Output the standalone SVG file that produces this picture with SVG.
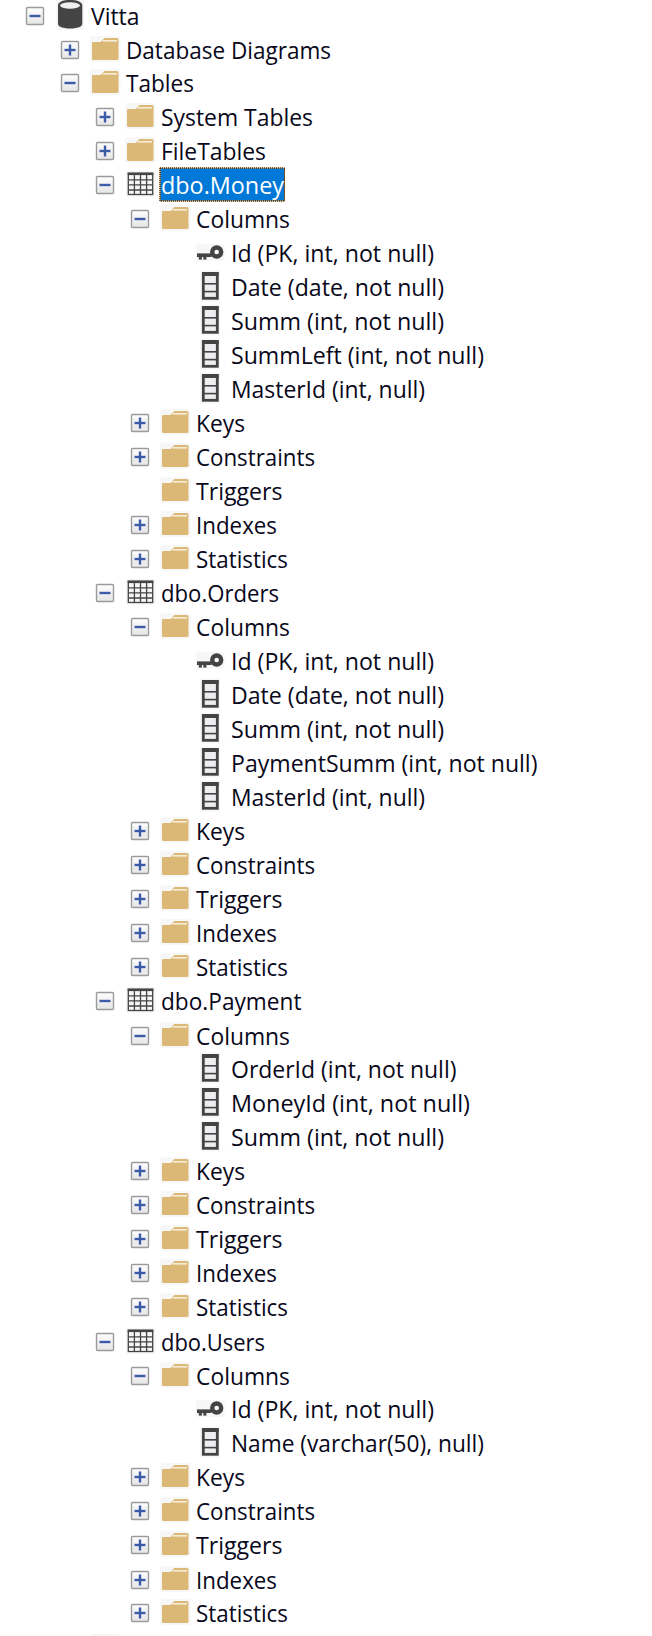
<svg xmlns="http://www.w3.org/2000/svg" width="652" height="1636" viewBox="0 0 652 1636">
<style>
text{font-family:"Open Sans","Noto Sans","Liberation Sans",sans-serif;font-size:23px;fill:#08081a}
.sel{fill:#fff}
.halo{fill:#f7f7f7}
.ic{fill:#444}
.box{fill:url(#bx);stroke:#9b9b9b;stroke-width:1.4}
.gl{fill:#3c5aa6}
.fold{fill:#dcb877}
.stripe{fill:#f6ecd8}
</style>
<defs>
<linearGradient id="bx" x1="0" y1="0" x2="0" y2="1"><stop offset="0" stop-color="#fdfdfd"/><stop offset="1" stop-color="#e6e6e6"/></linearGradient>
<g id="minus"><rect class="box" x="-8.5" y="-8.5" width="17" height="17" rx="1"/><rect class="gl" x="-5.5" y="-1.2" width="11" height="2.4"/></g>
<g id="plus"><rect class="box" x="-8.5" y="-8.5" width="17" height="17" rx="1"/><rect class="gl" x="-5.5" y="-1.2" width="11" height="2.4"/><rect class="gl" x="-1.2" y="-5.5" width="2.4" height="11"/></g>
<g id="folder"><rect class="halo" x="-2" y="-14" width="30.5" height="26" rx="3"/><path class="fold" d="M1 -8H8.5L12.5 -12H25Q26.5 -12 26.5 -10.5V8.5Q26.5 10 25 10H1.5Q0 10 0 8.5V-7Q0 -8 1 -8Z"/><rect class="stripe" x="10.5" y="-10" width="14.5" height="1.6"/></g>
<g id="table"><rect class="halo" x="-2" y="-14" width="30" height="26" rx="2"/><rect x="0.6" y="-11.5" width="24.4" height="21" fill="#f6f6f6" stroke="#444" stroke-width="1.3"/><rect class="ic" x="0" y="-12.5" width="25.6" height="2.6"/><path d="M6.7 -11V9.5M12.8 -11V9.5M18.9 -11V9.5M0.6 -5.2H25M0.6 -0.1H25M0.6 5H25" fill="none" stroke="#444" stroke-width="1.3"/></g>
<g id="column"><rect class="halo" x="200" y="-16.5" width="20" height="31"/><rect x="203.3" y="-13.2" width="14" height="24.5" fill="#eeeef1" stroke="#444" stroke-width="2.8"/><rect class="ic" x="202" y="-15" width="16.6" height="4"/><rect class="ic" x="203" y="-4" width="14" height="1.6"/><rect class="ic" x="203" y="3.8" width="14" height="1.6"/></g>
<g id="key"><rect class="halo" x="196" y="-9" width="28.5" height="17"/><circle cx="216.7" cy="-1" r="4.5" fill="none" stroke="#444" stroke-width="4.4"/><rect class="ic" x="197" y="0.4" width="14.5" height="3.6"/><rect class="ic" x="198.8" y="3" width="3.1" height="3.6"/><rect class="ic" x="203.3" y="3" width="3.1" height="3.6"/></g>
</defs>
<rect width="652" height="1636" fill="#fff"/>
<g id="tree">
<g id="vitta" transform="translate(0,16)"><use href="#minus" x="35"/><rect class="halo" x="56" y="-16" width="28" height="30"/><path class="ic" d="M58 -10.5C58 -18 82.3 -18 82.3 -10.5V8C82.3 14 58 14 58 8Z"/><ellipse cx="70" cy="-10.5" rx="10" ry="3.2" fill="#f0f0f0"/><text x="91" y="8.5" textLength="48.5" lengthAdjust="spacingAndGlyphs">Vitta</text></g>
<g id="database-diagrams" transform="translate(0,50)"><use href="#plus" x="70"/><use href="#folder" x="92"/><text x="126" y="8.5" textLength="205" lengthAdjust="spacingAndGlyphs">Database Diagrams</text></g>
<g id="tables" transform="translate(0,83)"><use href="#minus" x="70"/><use href="#folder" x="92"/><text x="126" y="8.5" textLength="68" lengthAdjust="spacingAndGlyphs">Tables</text></g>
<g id="system-tables" transform="translate(0,117)"><use href="#plus" x="105"/><use href="#folder" x="127"/><text x="161" y="8.5" textLength="152" lengthAdjust="spacingAndGlyphs">System Tables</text></g>
<g id="filetables" transform="translate(0,151)"><use href="#plus" x="105"/><use href="#folder" x="127"/><text x="161" y="8.5" textLength="105" lengthAdjust="spacingAndGlyphs">FileTables</text></g>
<g id="dbo-money" transform="translate(0,185)"><use href="#minus" x="105"/><use href="#table" x="127.7"/><rect x="160" y="-17" width="124.5" height="33" fill="#0078d7" stroke="#f3a23c"/><rect x="160" y="-17" width="124.5" height="33" fill="none" stroke="#000" stroke-dasharray="1 1"/><text class="sel" x="161" y="8.5" textLength="123" lengthAdjust="spacingAndGlyphs">dbo.Money</text></g>
<g id="money-columns" transform="translate(0,219)"><use href="#minus" x="140"/><use href="#folder" x="162"/><text x="196" y="8.5" textLength="94" lengthAdjust="spacingAndGlyphs">Columns</text></g>
<g id="money-id" transform="translate(0,253)"><use href="#key"/><text x="231" y="8.5" textLength="203" lengthAdjust="spacingAndGlyphs">Id (PK, int, not null)</text></g>
<g id="money-date" transform="translate(0,287)"><use href="#column"/><text x="231" y="8.5" textLength="213" lengthAdjust="spacingAndGlyphs">Date (date, not null)</text></g>
<g id="money-summ" transform="translate(0,321)"><use href="#column"/><text x="231" y="8.5" textLength="213" lengthAdjust="spacingAndGlyphs">Summ (int, not null)</text></g>
<g id="money-summleft" transform="translate(0,355)"><use href="#column"/><text x="231" y="8.5" textLength="253" lengthAdjust="spacingAndGlyphs">SummLeft (int, not null)</text></g>
<g id="money-masterid" transform="translate(0,389)"><use href="#column"/><text x="231" y="8.5" textLength="194" lengthAdjust="spacingAndGlyphs">MasterId (int, null)</text></g>
<g id="money-keys" transform="translate(0,423)"><use href="#plus" x="140"/><use href="#folder" x="162"/><text x="196" y="8.5" textLength="49" lengthAdjust="spacingAndGlyphs">Keys</text></g>
<g id="money-constraints" transform="translate(0,457)"><use href="#plus" x="140"/><use href="#folder" x="162"/><text x="196" y="8.5" textLength="119" lengthAdjust="spacingAndGlyphs">Constraints</text></g>
<g id="money-triggers" transform="translate(0,491)"><use href="#folder" x="162"/><text x="196" y="8.5" textLength="86.5" lengthAdjust="spacingAndGlyphs">Triggers</text></g>
<g id="money-indexes" transform="translate(0,525)"><use href="#plus" x="140"/><use href="#folder" x="162"/><text x="196" y="8.5" textLength="81" lengthAdjust="spacingAndGlyphs">Indexes</text></g>
<g id="money-statistics" transform="translate(0,559)"><use href="#plus" x="140"/><use href="#folder" x="162"/><text x="196" y="8.5" textLength="92" lengthAdjust="spacingAndGlyphs">Statistics</text></g>
<g id="dbo-orders" transform="translate(0,593)"><use href="#minus" x="105"/><use href="#table" x="127.7"/><text x="161" y="8.5" textLength="118" lengthAdjust="spacingAndGlyphs">dbo.Orders</text></g>
<g id="orders-columns" transform="translate(0,627)"><use href="#minus" x="140"/><use href="#folder" x="162"/><text x="196" y="8.5" textLength="94" lengthAdjust="spacingAndGlyphs">Columns</text></g>
<g id="orders-id" transform="translate(0,661)"><use href="#key"/><text x="231" y="8.5" textLength="203" lengthAdjust="spacingAndGlyphs">Id (PK, int, not null)</text></g>
<g id="orders-date" transform="translate(0,695)"><use href="#column"/><text x="231" y="8.5" textLength="213" lengthAdjust="spacingAndGlyphs">Date (date, not null)</text></g>
<g id="orders-summ" transform="translate(0,729)"><use href="#column"/><text x="231" y="8.5" textLength="213" lengthAdjust="spacingAndGlyphs">Summ (int, not null)</text></g>
<g id="orders-paymentsumm" transform="translate(0,763)"><use href="#column"/><text x="231" y="8.5" textLength="306.5" lengthAdjust="spacingAndGlyphs">PaymentSumm (int, not null)</text></g>
<g id="orders-masterid" transform="translate(0,797)"><use href="#column"/><text x="231" y="8.5" textLength="194" lengthAdjust="spacingAndGlyphs">MasterId (int, null)</text></g>
<g id="orders-keys" transform="translate(0,831)"><use href="#plus" x="140"/><use href="#folder" x="162"/><text x="196" y="8.5" textLength="49" lengthAdjust="spacingAndGlyphs">Keys</text></g>
<g id="orders-constraints" transform="translate(0,865)"><use href="#plus" x="140"/><use href="#folder" x="162"/><text x="196" y="8.5" textLength="119" lengthAdjust="spacingAndGlyphs">Constraints</text></g>
<g id="orders-triggers" transform="translate(0,899)"><use href="#plus" x="140"/><use href="#folder" x="162"/><text x="196" y="8.5" textLength="86.5" lengthAdjust="spacingAndGlyphs">Triggers</text></g>
<g id="orders-indexes" transform="translate(0,933)"><use href="#plus" x="140"/><use href="#folder" x="162"/><text x="196" y="8.5" textLength="81" lengthAdjust="spacingAndGlyphs">Indexes</text></g>
<g id="orders-statistics" transform="translate(0,967)"><use href="#plus" x="140"/><use href="#folder" x="162"/><text x="196" y="8.5" textLength="92" lengthAdjust="spacingAndGlyphs">Statistics</text></g>
<g id="dbo-payment" transform="translate(0,1001)"><use href="#minus" x="105"/><use href="#table" x="127.7"/><text x="161" y="8.5" textLength="140.5" lengthAdjust="spacingAndGlyphs">dbo.Payment</text></g>
<g id="payment-columns" transform="translate(0,1036)"><use href="#minus" x="140"/><use href="#folder" x="162"/><text x="196" y="8.5" textLength="94" lengthAdjust="spacingAndGlyphs">Columns</text></g>
<g id="payment-orderid" transform="translate(0,1069)"><use href="#column"/><text x="231" y="8.5" textLength="225.5" lengthAdjust="spacingAndGlyphs">OrderId (int, not null)</text></g>
<g id="payment-moneyid" transform="translate(0,1103)"><use href="#column"/><text x="231" y="8.5" textLength="239" lengthAdjust="spacingAndGlyphs">MoneyId (int, not null)</text></g>
<g id="payment-summ" transform="translate(0,1137)"><use href="#column"/><text x="231" y="8.5" textLength="213" lengthAdjust="spacingAndGlyphs">Summ (int, not null)</text></g>
<g id="payment-keys" transform="translate(0,1171)"><use href="#plus" x="140"/><use href="#folder" x="162"/><text x="196" y="8.5" textLength="49" lengthAdjust="spacingAndGlyphs">Keys</text></g>
<g id="payment-constraints" transform="translate(0,1205)"><use href="#plus" x="140"/><use href="#folder" x="162"/><text x="196" y="8.5" textLength="119" lengthAdjust="spacingAndGlyphs">Constraints</text></g>
<g id="payment-triggers" transform="translate(0,1239)"><use href="#plus" x="140"/><use href="#folder" x="162"/><text x="196" y="8.5" textLength="86.5" lengthAdjust="spacingAndGlyphs">Triggers</text></g>
<g id="payment-indexes" transform="translate(0,1273)"><use href="#plus" x="140"/><use href="#folder" x="162"/><text x="196" y="8.5" textLength="81" lengthAdjust="spacingAndGlyphs">Indexes</text></g>
<g id="payment-statistics" transform="translate(0,1307)"><use href="#plus" x="140"/><use href="#folder" x="162"/><text x="196" y="8.5" textLength="92" lengthAdjust="spacingAndGlyphs">Statistics</text></g>
<g id="dbo-users" transform="translate(0,1342)"><use href="#minus" x="105"/><use href="#table" x="127.7"/><text x="161" y="8.5" textLength="104" lengthAdjust="spacingAndGlyphs">dbo.Users</text></g>
<g id="users-columns" transform="translate(0,1376)"><use href="#minus" x="140"/><use href="#folder" x="162"/><text x="196" y="8.5" textLength="94" lengthAdjust="spacingAndGlyphs">Columns</text></g>
<g id="users-id" transform="translate(0,1409)"><use href="#key"/><text x="231" y="8.5" textLength="203" lengthAdjust="spacingAndGlyphs">Id (PK, int, not null)</text></g>
<g id="users-name" transform="translate(0,1443)"><use href="#column"/><text x="231" y="8.5" textLength="253" lengthAdjust="spacingAndGlyphs">Name (varchar(50), null)</text></g>
<g id="users-keys" transform="translate(0,1477)"><use href="#plus" x="140"/><use href="#folder" x="162"/><text x="196" y="8.5" textLength="49" lengthAdjust="spacingAndGlyphs">Keys</text></g>
<g id="users-constraints" transform="translate(0,1511)"><use href="#plus" x="140"/><use href="#folder" x="162"/><text x="196" y="8.5" textLength="119" lengthAdjust="spacingAndGlyphs">Constraints</text></g>
<g id="users-triggers" transform="translate(0,1545)"><use href="#plus" x="140"/><use href="#folder" x="162"/><text x="196" y="8.5" textLength="86.5" lengthAdjust="spacingAndGlyphs">Triggers</text></g>
<g id="users-indexes" transform="translate(0,1580)"><use href="#plus" x="140"/><use href="#folder" x="162"/><text x="196" y="8.5" textLength="81" lengthAdjust="spacingAndGlyphs">Indexes</text></g>
<g id="users-statistics" transform="translate(0,1613)"><use href="#plus" x="140"/><use href="#folder" x="162"/><text x="196" y="8.5" textLength="92" lengthAdjust="spacingAndGlyphs">Statistics</text></g>
<g id="next-folder" transform="translate(0,1648)"><use href="#folder" x="92"/></g>
</g>
</svg>
